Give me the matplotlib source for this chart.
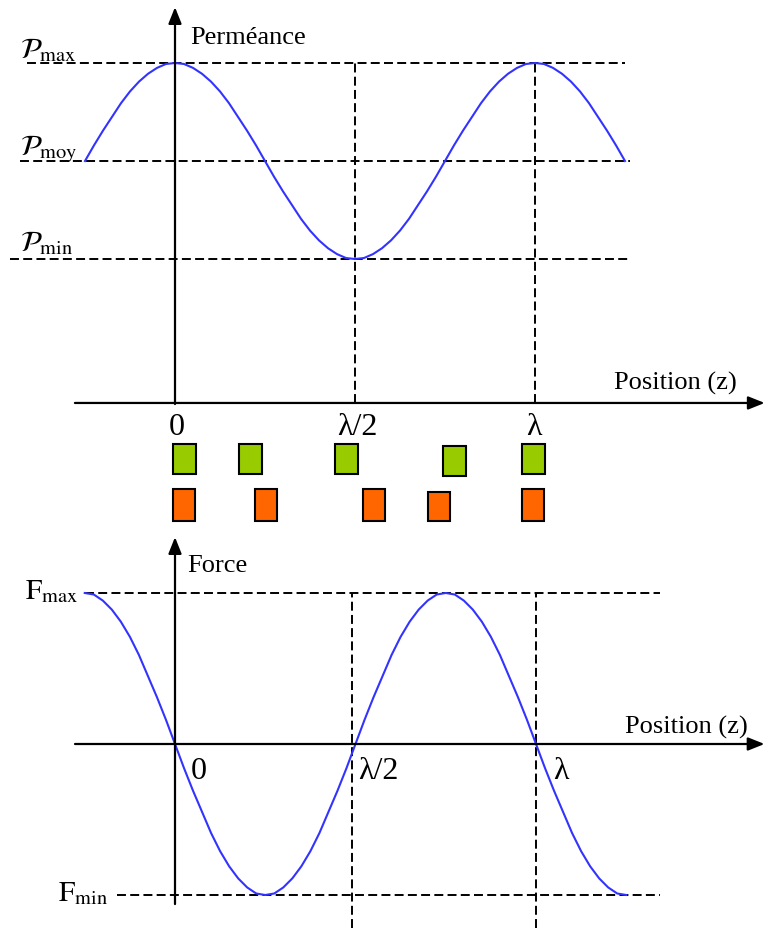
import matplotlib
matplotlib.use("Agg")
import matplotlib.pyplot as plt
from matplotlib.patches import Rectangle

plt.rcParams['font.family'] = ['Liberation Serif', 'DejaVu Serif']
plt.rcParams['mathtext.fontset'] = 'stix'

# position z in units of lambda, from -0.25 to 1.25
z_pts = [-0.25, -0.225, -0.2, -0.175, -0.15, -0.125, -0.1, -0.075, -0.05, -0.025,
         0.0, 0.025, 0.05, 0.075, 0.1, 0.125, 0.15, 0.175, 0.2, 0.225,
         0.25, 0.275, 0.3, 0.325, 0.35, 0.375, 0.4, 0.425, 0.45, 0.475,
         0.5, 0.525, 0.55, 0.575, 0.6, 0.625, 0.65, 0.675, 0.7, 0.725,
         0.75, 0.775, 0.8, 0.825, 0.85, 0.875, 0.9, 0.925, 0.95, 0.975,
         1.0, 1.025, 1.05, 1.075, 1.1, 1.125, 1.15, 1.175, 1.2, 1.225, 1.25]
# permeance, normalised (moy = 0, max = 1, min = -1)
perm = [0.0, 0.16, 0.31, 0.45, 0.59, 0.71, 0.81, 0.89, 0.95, 0.99,
        1.0, 0.99, 0.95, 0.89, 0.81, 0.71, 0.59, 0.45, 0.31, 0.16,
        0.0, -0.16, -0.31, -0.45, -0.59, -0.71, -0.81, -0.89, -0.95, -0.99,
        -1.0, -0.99, -0.95, -0.89, -0.81, -0.71, -0.59, -0.45, -0.31, -0.16,
        0.0, 0.16, 0.31, 0.45, 0.59, 0.71, 0.81, 0.89, 0.95, 0.99,
        1.0, 0.99, 0.95, 0.89, 0.81, 0.71, 0.59, 0.45, 0.31, 0.16, 0.0]
# force, normalised (max = 1, min = -1)
force = [1.0, 0.99, 0.95, 0.89, 0.81, 0.71, 0.59, 0.45, 0.31, 0.16,
         0.0, -0.16, -0.31, -0.45, -0.59, -0.71, -0.81, -0.89, -0.95, -0.99,
         -1.0, -0.99, -0.95, -0.89, -0.81, -0.71, -0.59, -0.45, -0.31, -0.16,
         0.0, 0.16, 0.31, 0.45, 0.59, 0.71, 0.81, 0.89, 0.95, 0.99,
         1.0, 0.99, 0.95, 0.89, 0.81, 0.71, 0.59, 0.45, 0.31, 0.16,
         0.0, -0.16, -0.31, -0.45, -0.59, -0.71, -0.81, -0.89, -0.95, -0.99, -1.0]

# tooth positions (left edge, in lambda)
green_z = [-0.006, 0.178, 0.444, 0.744, 0.964]
orange_z = [-0.006, 0.222, 0.522, 0.703, 0.964]
green_top = [445, 445, 445, 447, 445]
orange_top = [490, 490, 490, 493, 490]

W, H = 766, 929
fig = plt.figure(figsize=(W / 100, H / 100), dpi=100)


def px_axes(y0, y1):
    ax = fig.add_axes([0, 1 - y1 / H, 1, (y1 - y0) / H])
    ax.set_axis_off()
    return ax


def ptext(x, y, s, **kw):
    kw.setdefault('fontsize', 19)
    kw.setdefault('va', 'baseline')
    fig.text(x / W, 1 - y / H, s, **kw)


blue = '#3333ff'
dash = dict(color='black', lw=1.4, linestyle=(0, (4.6, 2.2)))
arrow = dict(arrowstyle='-|>,head_length=0.55,head_width=0.22', lw=1.6,
             color='black', mutation_scale=18, shrinkA=0, shrinkB=0)

# ---- top: permeance
ax1 = px_axes(0, 440)
ax1.set_xlim(-175 / 360, 591 / 360)
ax1.set_ylim((162 - 440) / 98, 162 / 98)
ax1.hlines(1, -0.411, 1.25, **dash)
ax1.hlines(0, -0.43, 1.264, **dash)
ax1.hlines(-1, -0.458, 1.264, **dash)
ax1.vlines([0.5, 1.0], -2.469, 1, **dash)
ax1.plot(z_pts, perm, color=blue, lw=1.5)
ax1.annotate('', xy=(0, 1.57), xytext=(0, -2.48), arrowprops=arrow,
             annotation_clip=False)
ax1.annotate('', xy=(1.638, -2.469), xytext=(-0.278, -2.469), arrowprops=arrow,
             annotation_clip=False)

ptext(190, 44, 'Perméance')
ptext(614, 390, 'Position (z)')
ptext(20, 58, r'$\mathcal{P}_{\mathrm{max}}$', fontsize=21)
ptext(20, 155, r'$\mathcal{P}_{\mathrm{moy}}$', fontsize=21)
ptext(20, 251, r'$\mathcal{P}_{\mathrm{min}}$', fontsize=21)
ptext(177, 435, '0', ha='center', fontsize=23)
ptext(357, 435, 'λ/2', ha='center', fontsize=23)
ptext(534, 435, 'λ', ha='center', fontsize=23)

# ---- middle: teeth
axm = px_axes(430, 530)
axm.set_xlim(-175 / 360, 591 / 360)
axm.set_ylim(530, 430)
for zl, top in zip(green_z, green_top):
    axm.add_patch(Rectangle((zl, top), 0.064, 30, facecolor='#99cc00',
                            edgecolor='black', lw=1.5))
for zl, top in zip(orange_z, orange_top):
    axm.add_patch(Rectangle((zl, top), 0.061, 522 - top, facecolor='#ff6600',
                            edgecolor='black', lw=1.5))

# ---- bottom: force
ax2 = px_axes(530, 929)
ax2.set_xlim(-175 / 361, 591 / 361)
ax2.set_ylim((745 - 929) / 151, (745 - 530) / 151)
ax2.hlines(1, -0.249, 1.343, **dash)
ax2.hlines(-1, -0.16, 1.343, **dash)
ax2.vlines([0.49, 1.0], -1.2185, 1, **dash)
ax2.plot(z_pts, force, color=blue, lw=1.5)
ax2.annotate('', xy=(0, 1.37), xytext=(0, -1.06), arrowprops=arrow,
             annotation_clip=False)
ax2.annotate('', xy=(1.633, 0), xytext=(-0.277, 0), arrowprops=arrow,
             annotation_clip=False)

ptext(187, 572, 'Force')
ptext(625, 734, 'Position (z)')
ptext(25, 599, r'$\mathrm{F}_{\mathrm{max}}$', fontsize=21)
ptext(58, 901, r'$\mathrm{F}_{\mathrm{min}}$', fontsize=21)
ptext(191, 779, '0', fontsize=23)
ptext(358, 779, 'λ/2', fontsize=23)
ptext(553, 779, 'λ', fontsize=23)

fig.savefig('out.png', dpi=100)
